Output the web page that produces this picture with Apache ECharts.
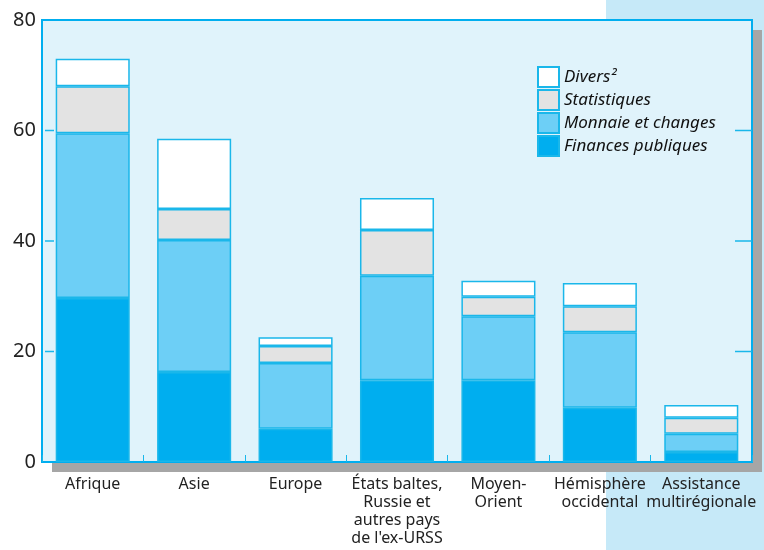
<!DOCTYPE html>
<html>
<head>
<meta charset="utf-8">
<script src="https://cdn.jsdelivr.net/npm/echarts@6/dist/echarts.min.js"></script>
<style>
  html, body { margin: 0; padding: 0; background: #fff; }
  #chart { width: 764px; height: 550px; }
</style>
</head>
<body>
<div id="chart"></div>
<script>
var regions = ['Afrique', 'Asie', 'Europe', 'États baltes,\nRussie et\nautres pays\nde l\'ex-URSS',
  'Moyen-\nOrient', 'Hémisphère\noccidental', 'Assistance\nmultirégionale'];
var finances = [29.7, 16.3, 6.0, 14.8, 14.8, 9.8, 1.8];
var monnaie = [29.8, 23.9, 11.9, 18.9, 11.6, 13.7, 3.3];
var statistiques = [8.5, 5.6, 3.1, 8.3, 3.5, 4.7, 2.9];
var divers = [5.0, 12.7, 1.6, 5.8, 2.9, 4.2, 2.3];
var yTicks = [0, 20, 40, 60, 80];

var font = 'Noto Sans';
var edge = '#1ab7ea';

function bar (name, values, color) {
  return {
    name: name,
    type: 'bar',
    stack: 'total',
    barCategoryGap: '27%',
    data: values,
    itemStyle: { color: color, borderColor: edge, borderWidth: 1.5 }
  };
}

var chart = echarts.init(document.getElementById('chart'));
chart.setOption({
  animation: false,
  graphic: [{
    type: 'rect', z: -10, silent: true,
    shape: { x: 606, y: 0, width: 158, height: 550 },
    style: { fill: '#c6e9f8' }
  }, {
    // drop shadow of the plot frame
    type: 'rect', z: -5, silent: true,
    shape: { x: 52, y: 30, width: 710, height: 442 },
    style: { fill: '#a6a6a6' }
  }],
  grid: {
    left: 42, top: 20, right: 12, bottom: 88,
    show: true,
    backgroundColor: '#e0f3fb',
    borderColor: '#00aeef',
    borderWidth: 2
  },
  legend: {
    orient: 'vertical',
    left: 537, top: 66,
    padding: 0,
    icon: 'rect',
    itemWidth: 21, itemHeight: 20, itemGap: 1,
    data: ['Divers²', 'Statistiques', 'Monnaie et changes', 'Finances publiques'],
    textStyle: { fontFamily: font, fontStyle: 'italic', fontSize: 17, color: '#111' }
  },
  xAxis: {
    type: 'category',
    data: regions,
    z: 5,
    axisLine: { show: false },
    axisTick: { show: true, inside: true, length: 7, lineStyle: { color: edge } },
    axisLabel: {
      margin: 13, interval: 0,
      fontFamily: font, fontSize: 16, lineHeight: 18, color: '#222'
    }
  },
  yAxis: {
    type: 'value', min: 0, max: 80, interval: 20,
    position: 'left', z: 5,
    splitLine: { show: false },
    axisLine: { show: false },
    axisTick: { show: false },
    axisLabel: {
      margin: 6, fontFamily: font, fontSize: 20, color: '#222',
      formatter: function (v) { return yTicks.indexOf(v) >= 0 ? String(v) : ''; }
    }
  },
  series: [
    bar('Finances publiques', finances, '#00aeef'),
    bar('Monnaie et changes', monnaie, '#6dcff6'),
    bar('Statistiques', statistiques, '#e3e3e3'),
    bar('Divers²', divers, '#ffffff'),
    {
      // short inside ticks on the left and right frame edges
      type: 'custom',
      silent: true,
      z: 10,
      data: yTicks.slice(1, -1).map(function (v) { return [0, v]; }),
      renderItem: function (params, api) {
        var y = api.coord([0, api.value(1)])[1];
        var cs = params.coordSys;
        var right = cs.x + cs.width;
        return {
          type: 'group',
          children: [{
            type: 'line',
            shape: { x1: cs.x + 3, y1: y, x2: cs.x + 12, y2: y },
            style: { stroke: edge, lineWidth: 1.5 }
          }, {
            type: 'line',
            shape: { x1: right - 17, y1: y, x2: right, y2: y },
            style: { stroke: edge, lineWidth: 1.5 }
          }]
        };
      }
    }
  ]
});
</script>
</body>
</html>
